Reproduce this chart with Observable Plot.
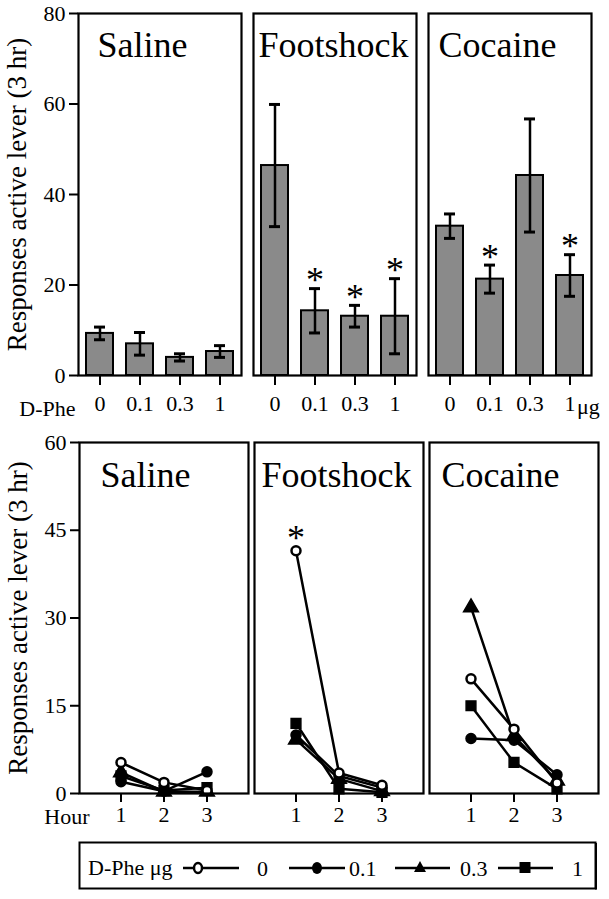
<!DOCTYPE html>
<html><head><meta charset="utf-8">
<script src="https://cdn.jsdelivr.net/npm/d3@7"></script>
<script src="https://cdn.jsdelivr.net/npm/@observablehq/plot@0.6"></script>
<style>
body{margin:0;background:#fff;}
#wrap{position:relative;width:609px;height:899px;font-family:"Liberation Serif","Times New Roman",serif;}
#wrap svg text{font-family:"Liberation Serif","Times New Roman",serif;}
#topChart,#bottomChart,#legend{position:absolute;left:0;}
#topChart{top:0}
#bottomChart{top:420px}
#legend{top:840px;left:78px}
</style></head><body><div id="wrap"><div id="topChart"></div><div id="bottomChart"></div><div id="legend"></div></div>
<script>
(function(){
// ---- data ----
const conditions = ["Saline", "Footshock", "Cocaine"];
const doses = ["0", "0.1", "0.3", "1"];
const hours = [1, 2, 3];
const yTicksTop = [0, 20, 40, 60, 80];
const yTicksBottom = [0, 15, 30, 45, 60];

const salineMean = [9.3, 7.0, 4.0, 5.3];
const salineSem = [1.4, 2.5, 0.8, 1.3];
const footshockMean = [46.4, 14.3, 13.1, 13.1];
const footshockSem = [13.5, 4.9, 2.4, 8.3];
const cocaineMean = [33.0, 21.3, 44.2, 22.1];
const cocaineSem = [2.7, 3.1, 12.5, 4.6];
const salineSig = [false, false, false, false];
const footshockSig = [false, true, true, true];
const cocaineSig = [false, true, false, true];

// hourly responses, rows = dose (0, 0.1, 0.3, 1), columns = hour 1..3
const salineHourly = [[5.3, 1.9, 0.5], [2.0, 0.4, 3.7], [3.6, 0.3, 0.3], [3.0, 0.5, 1.0]];
const footshockHourly = [[41.5, 3.5, 1.4], [10.0, 3.0, 1.0], [9.2, 2.5, 0.4], [12.0, 0.8, 0.2]];
const cocaineHourly = [[19.6, 11.0, 1.8], [9.4, 9.1, 3.2], [31.8, 9.8, 2.2], [15.0, 5.3, 0.8]];
const hourStar = [{cond: "Footshock", dose: "0", hour: 1}];

// ---- tables ----
const means = [salineMean, footshockMean, cocaineMean];
const sems = [salineSem, footshockSem, cocaineSem];
const sigs = [salineSig, footshockSig, cocaineSig];
const hourly = [salineHourly, footshockHourly, cocaineHourly];
const bars = conditions.flatMap((c, i) => doses.map((d, j) => ({
  cond: c, dose: d, mean: means[i][j], lo: means[i][j] - sems[i][j], hi: means[i][j] + sems[i][j], sig: sigs[i][j]
})));
const points = conditions.flatMap((c, i) => doses.flatMap((d, j) => hours.map((h, k) => ({
  cond: c, dose: d, hour: h, value: hourly[i][j][k]
}))));
const starPts = hourStar.map(s => points.find(p => p.cond === s.cond && p.dose === s.dose && p.hour === s.hour));

const FONT = '"Liberation Serif","Times New Roman",serif';
const F = {fontFamily: FONT};
const titleDx = [19, 5, 10];
const TICK = 22;

// ---- top chart ----
const topPlot = Plot.plot({
  width: 609, height: 420,
  marginLeft: 78, marginRight: 17, marginTop: 13, marginBottom: 45,
  style: {fontFamily: FONT, color: "black", background: "white", overflow: "visible"},
  fx: {domain: conditions, paddingInner: 0.066, paddingOuter: 0, axis: null, label: null},
  x: {domain: doses, paddingInner: 0.32, paddingOuter: 0.16},
  y: {domain: [0, 80]},
  marks: [
    Plot.barY(bars, {fx: "cond", x: "dose", y: "mean", fill: "#8a8a8a", stroke: "black", strokeWidth: 2}),
    Plot.ruleX(bars, {fx: "cond", x: "dose", y1: "lo", y2: "hi", stroke: "black", strokeWidth: 2.5}),
    Plot.tickY(bars, {fx: "cond", x: "dose", y: "hi", stroke: "black", strokeWidth: 3, insetLeft: 8, insetRight: 8}),
    Plot.tickY(bars, {fx: "cond", x: "dose", y: "lo", stroke: "black", strokeWidth: 3, insetLeft: 8, insetRight: 8}),
    Plot.text(bars.filter(d => d.sig), {...F, fx: "cond", x: "dose", y: "hi", text: () => "*", fontSize: 36, dy: -8, lineAnchor: "middle"}),
    Plot.frame({stroke: "black", strokeWidth: 2.2}),
    ...conditions.map((c, i) => Plot.text([c], {...F, fx: d => d, text: d => d, frameAnchor: "top-left", dx: titleDx[i], dy: 18, fontSize: 36, textAnchor: "start", lineAnchor: "top"})),
    Plot.axisY({...F, ticks: yTicksTop, tickSize: 9, tickPadding: 4, fontSize: TICK, strokeWidth: 2, label: null}),
    Plot.axisX({...F, tickSize: 10, tickPadding: 10, fontSize: TICK, strokeWidth: 2, label: null}),
    Plot.text(["Saline"], {...F, fx: d => d, text: () => "Responses active lever (3 hr)", frameAnchor: "left", dx: -61, rotate: -90, fontSize: 27, textAnchor: "middle", lineAnchor: "middle"}),
    Plot.text(["Saline"], {...F, fx: d => d, text: () => "D-Phe", frameAnchor: "bottom-left", dx: -3, dy: 33, fontSize: TICK, textAnchor: "end", lineAnchor: "middle"}),
    Plot.text([{cond: "Cocaine", dose: "1"}], {...F, fx: "cond", x: "dose", text: () => "μg", frameAnchor: "bottom", dx: 7, dy: 31, fontSize: TICK, textAnchor: "start", lineAnchor: "middle"})
  ]
});
document.getElementById("topChart").append(topPlot);

// ---- bottom chart ----
const bottomPlot = Plot.plot({
  width: 609, height: 410,
  marginLeft: 78, marginRight: 11, marginTop: 22, marginBottom: 37,
  style: {fontFamily: FONT, color: "black", background: "white", overflow: "visible"},
  fx: {domain: conditions, paddingInner: 0.037, paddingOuter: 0, axis: null, label: null},
  x: {domain: [0.035, 3.965]},
  y: {domain: [0, 60]},
  marks: [
    Plot.line(points, {fx: "cond", x: "hour", y: "value", z: "dose", stroke: "black", strokeWidth: 2.5}),
    Plot.dot(points.filter(d => d.dose === "0.1"), {fx: "cond", x: "hour", y: "value", r: 5, fill: "black", stroke: "black"}),
    Plot.dot(points.filter(d => d.dose === "0.3"), {fx: "cond", x: "hour", y: "value", symbol: "triangle", r: 5.5, fill: "black", stroke: "black"}),
    Plot.dot(points.filter(d => d.dose === "1"), {fx: "cond", x: "hour", y: "value", symbol: "square", r: 5.5, fill: "black", stroke: "black"}),
    Plot.dot(points.filter(d => d.dose === "0"), {fx: "cond", x: "hour", y: "value", r: 4.5, fill: "white", stroke: "black", strokeWidth: 2.5}),
    Plot.text(starPts, {...F, fx: "cond", x: "hour", y: "value", text: () => "*", fontSize: 36, dy: -12, lineAnchor: "middle"}),
    Plot.frame({stroke: "black", strokeWidth: 2.2}),
    ...conditions.map((c, i) => Plot.text([c], {...F, fx: d => d, text: d => d, frameAnchor: "top-left", dx: titleDx[i] + 2, dy: 19, fontSize: 36, textAnchor: "start", lineAnchor: "top"})),
    Plot.axisY({...F, ticks: yTicksBottom, tickSize: 9, tickPadding: 4, fontSize: TICK, strokeWidth: 2, label: null}),
    Plot.axisX({...F, ticks: hours, tickFormat: d => d, tickSize: 9, tickPadding: 4, fontSize: TICK, strokeWidth: 2, label: null}),
    Plot.text(["Saline"], {...F, fx: d => d, text: () => "Responses active lever (3 hr)", frameAnchor: "left", dx: -61, rotate: -90, fontSize: 27, textAnchor: "middle", lineAnchor: "middle"}),
    Plot.text(["Saline"], {...F, fx: d => d, text: () => "Hour", frameAnchor: "bottom-left", dx: 10, dy: 23, fontSize: TICK, textAnchor: "end", lineAnchor: "middle"})
  ]
});
document.getElementById("bottomChart").append(bottomPlot);

// ---- legend ----
const ns = "http://www.w3.org/2000/svg";
const lg = document.createElementNS(ns, "svg");
lg.setAttribute("width", 522); lg.setAttribute("height", 52);
lg.setAttribute("style", `font-family:${FONT};`);
const mk = (tag, attrs, txt) => { const e = document.createElementNS(ns, tag); for (const k in attrs) e.setAttribute(k, attrs[k]); if (txt != null) e.textContent = txt; lg.append(e); return e; };
mk("rect", {x: 1.5, y: 2.5, width: 516, height: 46, fill: "white", stroke: "black", "stroke-width": 2});
mk("line", {x1: 518, y1: 3, x2: 518, y2: 49.5, stroke: "black", "stroke-width": 2});
mk("text", {x: 10, y: 35, "font-size": TICK}, "D-Phe μg");
const items = [
  {label: doses[0], x1: 105, x2: 161, m: 120, tx: 179},
  {label: doses[1], x1: 211, x2: 267, m: 239, tx: 271},
  {label: doses[2], x1: 317, x2: 372, m: 342, tx: 382},
  {label: doses[3], x1: 420, x2: 475, m: 447, tx: 494}
];
const cy = 28;
items.forEach((it, i) => {
  mk("line", {x1: it.x1, y1: cy, x2: it.x2, y2: cy, stroke: "black", "stroke-width": 2.5});
  if (i === 0) mk("ellipse", {cx: it.m, cy, rx: 4, ry: 5, fill: "white", stroke: "black", "stroke-width": 2.5});
  if (i === 1) mk("ellipse", {cx: it.m, cy, rx: 5, ry: 6, fill: "black"});
  if (i === 2) mk("path", {d: `M${it.m},${cy - 7}L${it.m + 6},${cy + 4}L${it.m - 6},${cy + 4}Z`, fill: "black"});
  if (i === 3) mk("rect", {x: it.m - 5.5, y: cy - 6, width: 11, height: 11, fill: "black"});
  mk("text", {x: it.tx, y: 36, "font-size": TICK}, it.label);
});
document.getElementById("legend").append(lg);
})();
</script></body></html>
